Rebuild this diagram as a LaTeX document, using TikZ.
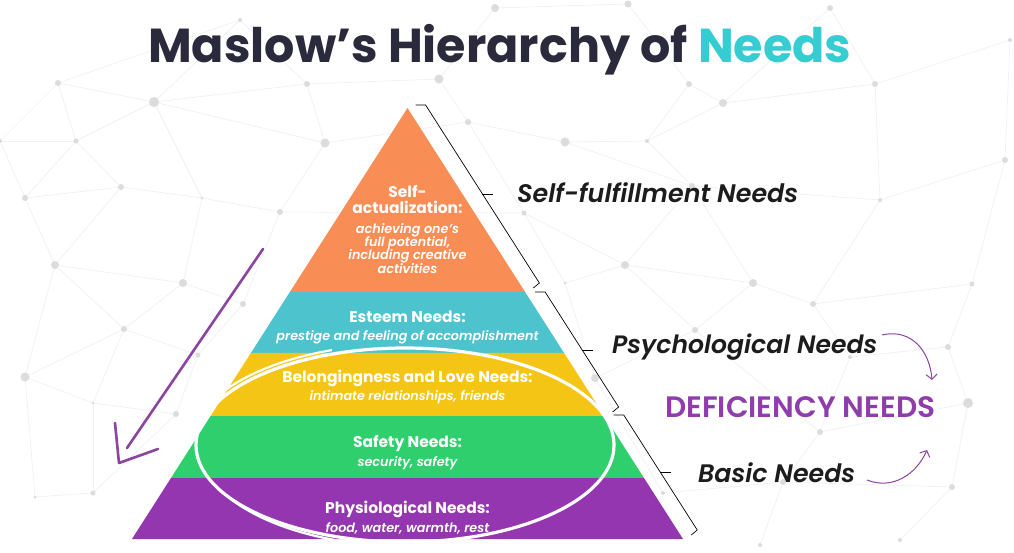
\documentclass[tikz,border=0pt]{standalone}
\usepackage{fontspec}
\setmainfont{Poppins}
\usetikzlibrary{calc,arrows.meta}
\IfFontExistsTF{Poppins SemiBold Italic}
  {\newfontfamily\descfont{Poppins SemiBold Italic}}
  {\newcommand{\descfont}{\bfseries\itshape}}
\IfFontExistsTF{Poppins SemiBold}
  {\newfontfamily\deficfont{Poppins SemiBold}}
  {\newcommand{\deficfont}{\bfseries}}
\IfFontExistsTF{Poppins SemiBold Italic}
  {\newfontfamily\sidefont{Poppins SemiBold Italic}}
  {\newcommand{\sidefont}{\bfseries\itshape}}

\definecolor{titledark}{HTML}{2B2A3C}
\definecolor{titleteal}{HTML}{35CCD2}
\definecolor{bandorange}{HTML}{F98D56}
\definecolor{bandteal}{HTML}{4CC3CD}
\definecolor{bandyellow}{HTML}{F4C514}
\definecolor{bandgreen}{HTML}{2ECF6C}
\definecolor{bandpurple}{HTML}{9436B0}
\definecolor{defpurple}{HTML}{8E3DAA}
\definecolor{arrowpurple}{HTML}{8B45A0}
\definecolor{meshgray}{HTML}{F1F1F1}
\definecolor{dotgray}{HTML}{DCDCDC}
\definecolor{labelblack}{HTML}{1C1C1C}

\tikzset{
  meshline/.style={meshgray, line width=0.7pt},
  meshdot/.style={dotgray},
  levelhead/.style={white, font=\bfseries\fontsize{15.5}{16}\selectfont, anchor=base, inner sep=0pt},
  leveldesc/.style={white, font=\descfont\fontsize{12.8}{14}\selectfont, anchor=base, inner sep=0pt},
  sidelabel/.style={labelblack, font=\sidefont, anchor=base west, inner sep=0pt},
  bracketline/.style={black, line width=0.7pt},
  bendarrow/.style={arrowpurple, line width=1pt, -{Straight Barb[length=5pt,width=11pt]}},
}

\def\meshdots{1/58/83/3, 2/154/102/5, 3/76/141/2.5, 4/0/141/2, 5/121/187/3, 6/25/198/3,
  7/202/198/1.5, 8/55/265/4, 9/183/283/4, 10/124/329/3, 11/198/355/2.5, 12/25/377/4.5,
  13/93/403/1.5, 14/176/414/3, 15/35/497/1.5, 16/93/493/2.5, 17/243/304/3, 18/280/212/3,
  19/325/143/4.5, 20/307/84/3, 21/439/79/4.5, 22/468/122/3, 23/565/142/4.5, 24/647/141/2,
  25/723/103/4, 26/689/84/3, 27/692/186/3, 28/524/213/2.5, 29/625/265/4, 30/565/283/1.5,
  31/753/283/4, 32/813/304/3, 33/695/330/3, 34/948/347/3, 35/972/284/2.5, 36/850/357/2,
  37/595/378/4, 38/968/403/5, 39/820/432/3, 40/952/487/3, 41/783/482/3, 42/663/493/2,
  43/875/84/3, 44/495/8/4, 45/628/4/3.5, 46/830/8/3, 47/1005/160/3, 48/880/200/2,
  49/1010/40/2, 50/900/540/2, 51/760/545/2, 52/240/20/2}

\begin{document}
\begin{tikzpicture}[x=1pt,y=-1pt]
\useasboundingbox (0,0) rectangle (1014,552);
\fill[white] (0,0) rectangle (1014,552);

% background mesh
\foreach \n/\x/\y/\r in \meshdots
  \coordinate (d\n) at (\x,\y);
\foreach \a/\b in {1/2,1/3,1/4,2/3,2/19,2/20,2/52,1/52,3/4,3/5,3/6,4/6,5/6,5/7,5/8,2/7,6/8,
  7/9,8/9,8/10,8/12,9/10,9/17,10/11,10/12,10/13,11/14,11/17,12/13,13/14,13/16,12/15,15/16,
  14/16,7/18,18/19,18/17,19/20,20/21,21/22,19/22,22/23,22/28,18/28,23/24,24/25,23/27,24/27,
  25/26,21/44,44/45,45/26,26/24,25/46,46/43,43/25,43/48,27/48,27/31,27/29,28/29,28/30,29/30,
  29/31,31/32,32/48,32/35,35/47,47/48,35/34,32/36,34/36,36/39,31/33,29/33,33/37,30/37,37/42,
  33/39,39/38,34/38,38/40,39/41,41/42,40/41,40/50,41/51,43/49,47/49,20/52}
  \draw[meshline] (d\a) -- (d\b);
\foreach \n/\x/\y/\r in \meshdots
  \fill[meshdot] (d\n) circle (\r pt);

% title
\node[anchor=base west, inner sep=0pt, font=\bfseries] (title) at (148,62)
  {\resizebox{703pt}{!}{\textcolor{titledark}{Maslow’s Hierarchy of} \textcolor{titleteal}{Needs}}};

% pyramid
\coordinate (apex) at (407.5,108);
\coordinate (bl) at (132,539);
\coordinate (br) at (683,539);
\foreach \ta/\tb/\c in {0/0.4269/bandorange, 0.4269/0.5684/bandteal, 0.5684/0.7146/bandyellow,
  0.7146/0.8585/bandgreen, 0.8585/1/bandpurple}
  \fill[\c] ($(apex)!\ta!(bl)$) -- ($(apex)!\ta!(br)$) -- ($(apex)!\tb!(br)$) -- ($(apex)!\tb!(bl)$) -- cycle;

% brackets
\foreach \ta/\tm/\tb/\nm in {-0.007/0.1995/0.406/bself, 0.4269/0.5615/0.6937/bpsy, 0.7123/0.8445/0.9791/bbasic}{
  \coordinate (\nm top) at ($(apex)!\ta!(br)+(20,0)$);
  \coordinate (\nm mid) at ($(apex)!\tm!(br)+(20,0)$);
  \coordinate (\nm bot) at ($(apex)!\tb!(br)+(20,0)$);
  \draw[bracketline] ($(\nm top)+(-10,0)$) -- (\nm top) -- (\nm bot) -- ++(-6,5);
  \draw[bracketline] (\nm mid) -- ++(11,0);
}

% level texts
\node[levelhead] (sa1) at (407.5,197) {Self-};
\node[levelhead] (sa2) at (407.5,213) {actualization:};
\node[leveldesc] (sa3) at (407.5,233) {achieving one’s};
\node[leveldesc] (sa4) at (407.5,246) {full potential,};
\node[leveldesc] (sa5) at (407.5,259) {including creative};
\node[leveldesc] (sa6) at (407.5,273) {activities};
\node[levelhead] (es1) at (407.5,322) {Esteem Needs:};
\node[leveldesc] (es2) at (407.5,340) {prestige and feeling of accomplishment};
\node[levelhead] (bl1) at (407.5,382) {Belongingness and Love Needs:};
\node[leveldesc] (bl2) at (407.5,400) {intimate relationships, friends};
\node[levelhead] (sf1) at (407.5,447) {Safety Needs:};
\node[leveldesc] (sf2) at (407.5,466) {security, safety};
\node[levelhead] (ph1) at (407.5,513) {Physiological Needs:};
\node[leveldesc] (ph2) at (407.5,532) {food, water, warmth, rest};

% hand drawn ring
\draw[white, line width=3.2pt] (405,445) ellipse [x radius=209, y radius=97];
\draw[white, line width=2.2pt] ($(405,445)+(196:214 and 101)$) arc [start angle=196, end angle=250, x radius=214, y radius=101];
\draw[white, line width=2.2pt] ($(405,445)+(110:206 and 101)$) arc [start angle=110, end angle=150, x radius=206, y radius=101];

% side labels
\node[sidelabel] (selfful) at (517,202) {\resizebox{281pt}{!}{Self-fulfillment Needs}};
\node[sidelabel] (psy) at (612,353) {\resizebox{265pt}{!}{Psychological Needs}};
\node[sidelabel] (basic) at (698,482) {\resizebox{157pt}{!}{Basic Needs}};
\node[anchor=base west, inner sep=0pt, font=\deficfont, defpurple] (defic) at (665,417)
  {\resizebox{270pt}{!}{DEFICIENCY NEEDS}};

% curved arrows
\coordinate (psyout) at (882,335);
\coordinate (psyin) at (932,380);
\coordinate (basout) at (867,480);
\coordinate (basin) at (927,450);
\draw[bendarrow] (psyout) .. controls (912,328) and (930,352) .. (psyin);
\draw[bendarrow] (basout) .. controls (892,490) and (916,475) .. (basin);

% downward arrow
\coordinate (downstart) at (263,249);
\coordinate (downend) at (127,448);
\coordinate (downtip) at (119,463);
\draw[arrowpurple, line width=2.6pt, line cap=round] (downstart) -- (downend);
\draw[arrowpurple, line width=2.6pt, line cap=round, line join=round] (115,423) -- (downtip) -- (158,449);
\end{tikzpicture}
\end{document}
